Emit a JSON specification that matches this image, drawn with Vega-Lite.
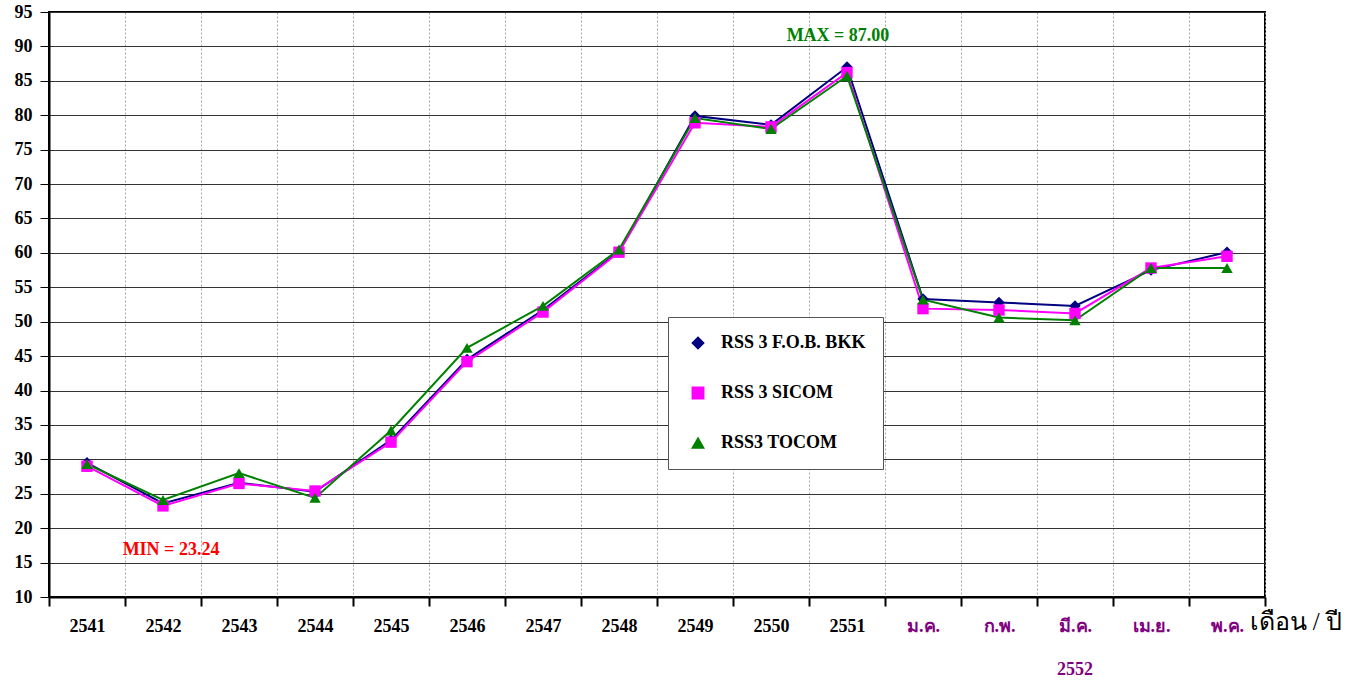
{
  "$schema": "https://vega.github.io/schema/vega-lite/v6.json",
  "width": 1216,
  "height": 585,
  "autosize": {"type": "none"},
  "padding": {"left": 49, "top": 12, "right": 98, "bottom": 87},
  "background": "white",
  "config": {
    "view": {"stroke": "black", "strokeWidth": 2},
    "font": "Liberation Serif"
  },
  "datasets": {
    "prices": [
      {"period": "2541", "series": "RSS 3 F.O.B. BKK", "value": 29.5},
      {"period": "2542", "series": "RSS 3 F.O.B. BKK", "value": 23.6},
      {"period": "2543", "series": "RSS 3 F.O.B. BKK", "value": 26.6},
      {"period": "2544", "series": "RSS 3 F.O.B. BKK", "value": 25.3},
      {"period": "2545", "series": "RSS 3 F.O.B. BKK", "value": 32.8},
      {"period": "2546", "series": "RSS 3 F.O.B. BKK", "value": 44.5},
      {"period": "2547", "series": "RSS 3 F.O.B. BKK", "value": 51.7},
      {"period": "2548", "series": "RSS 3 F.O.B. BKK", "value": 60.2},
      {"period": "2549", "series": "RSS 3 F.O.B. BKK", "value": 79.9},
      {"period": "2550", "series": "RSS 3 F.O.B. BKK", "value": 78.6},
      {"period": "2551", "series": "RSS 3 F.O.B. BKK", "value": 87.0},
      {"period": "ม.ค.", "series": "RSS 3 F.O.B. BKK", "value": 53.3},
      {"period": "ก.พ.", "series": "RSS 3 F.O.B. BKK", "value": 52.8},
      {"period": "มี.ค.", "series": "RSS 3 F.O.B. BKK", "value": 52.3},
      {"period": "เม.ย.", "series": "RSS 3 F.O.B. BKK", "value": 57.5},
      {"period": "พ.ค.", "series": "RSS 3 F.O.B. BKK", "value": 60.1},
      {"period": "2541", "series": "RSS 3 SICOM", "value": 29.0},
      {"period": "2542", "series": "RSS 3 SICOM", "value": 23.24},
      {"period": "2543", "series": "RSS 3 SICOM", "value": 26.5},
      {"period": "2544", "series": "RSS 3 SICOM", "value": 25.4},
      {"period": "2545", "series": "RSS 3 SICOM", "value": 32.5},
      {"period": "2546", "series": "RSS 3 SICOM", "value": 44.2},
      {"period": "2547", "series": "RSS 3 SICOM", "value": 51.4},
      {"period": "2548", "series": "RSS 3 SICOM", "value": 60.1},
      {"period": "2549", "series": "RSS 3 SICOM", "value": 78.9},
      {"period": "2550", "series": "RSS 3 SICOM", "value": 78.3},
      {"period": "2551", "series": "RSS 3 SICOM", "value": 86.2},
      {"period": "ม.ค.", "series": "RSS 3 SICOM", "value": 51.9},
      {"period": "ก.พ.", "series": "RSS 3 SICOM", "value": 51.7},
      {"period": "มี.ค.", "series": "RSS 3 SICOM", "value": 51.2},
      {"period": "เม.ย.", "series": "RSS 3 SICOM", "value": 57.8},
      {"period": "พ.ค.", "series": "RSS 3 SICOM", "value": 59.5},
      {"period": "2541", "series": "RSS3 TOCOM", "value": 29.3},
      {"period": "2542", "series": "RSS3 TOCOM", "value": 24.1},
      {"period": "2543", "series": "RSS3 TOCOM", "value": 28.0},
      {"period": "2544", "series": "RSS3 TOCOM", "value": 24.4},
      {"period": "2545", "series": "RSS3 TOCOM", "value": 34.2},
      {"period": "2546", "series": "RSS3 TOCOM", "value": 46.2},
      {"period": "2547", "series": "RSS3 TOCOM", "value": 52.3},
      {"period": "2548", "series": "RSS3 TOCOM", "value": 60.5},
      {"period": "2549", "series": "RSS3 TOCOM", "value": 79.6},
      {"period": "2550", "series": "RSS3 TOCOM", "value": 78.0},
      {"period": "2551", "series": "RSS3 TOCOM", "value": 85.7},
      {"period": "ม.ค.", "series": "RSS3 TOCOM", "value": 53.2},
      {"period": "ก.พ.", "series": "RSS3 TOCOM", "value": 50.6},
      {"period": "มี.ค.", "series": "RSS3 TOCOM", "value": 50.2},
      {"period": "เม.ย.", "series": "RSS3 TOCOM", "value": 57.8},
      {"period": "พ.ค.", "series": "RSS3 TOCOM", "value": 57.8}
    ]
  },
  "encoding": {
    "x": {
      "field": "period",
      "type": "nominal",
      "sort": ["2541","2542","2543","2544","2545","2546","2547","2548","2549","2550","2551","ม.ค.","ก.พ.","มี.ค.","เม.ย.","พ.ค."],
      "scale": {"type": "band", "paddingInner": 0, "paddingOuter": 0},
      "axis": {
        "title": "เดือน / ปี",
        "titleFont": "Liberation Serif",
        "titleFontSize": 25,
        "titleFontWeight": "normal",
        "titleColor": "black",
        "titleAlign": "left",
        "titleBaseline": "middle",
        "titleAnchor": "start",
        "titleX": 1200,
        "titleY": 24,
        "labelAngle": 0,
        "labelOverlap": false,
        "labelFont": "Liberation Serif",
        "labelFontSize": 18,
        "labelFontWeight": "bold",
        "labelColor": {"condition": {"test": "test(/^25/, datum.value)", "value": "black"}, "value": "#800080"},
        "labelPadding": 11,
        "labelBaseline": "top",
        "tickBand": "extent",
        "tickSize": 9,
        "tickColor": "black",
        "tickWidth": 2,
        "domainColor": "black",
        "domainWidth": 2,
        "grid": true,
        "gridColor": "#a8a8a8",
        "gridDash": [2, 2],
        "gridWidth": 1
      }
    },
    "y": {
      "field": "value",
      "type": "quantitative",
      "scale": {"domain": [10, 95], "nice": false, "zero": false},
      "axis": {
        "title": null,
        "values": [10,15,20,25,30,35,40,45,50,55,60,65,70,75,80,85,90,95],
        "labelOverlap": false,
        "labelFont": "Liberation Serif",
        "labelFontSize": 18,
        "labelFontWeight": "bold",
        "labelColor": "black",
        "labelPadding": 8,
        "tickSize": 9,
        "tickColor": "black",
        "domainColor": "black",
        "domainWidth": 2,
        "grid": true,
        "gridColor": "#333333",
        "gridWidth": 1.2
      }
    }
  },
  "layer": [
    {
      "data": {"name": "prices"},
      "mark": {"type": "line", "strokeWidth": 2},
      "encoding": {
        "color": {
          "field": "series",
          "type": "nominal",
          "scale": {"domain": ["RSS 3 F.O.B. BKK", "RSS 3 SICOM", "RSS3 TOCOM"], "range": ["#000080", "#FF00FF", "#008000"]},
          "legend": {
            "title": null,
            "orient": "none",
            "legendX": 619,
            "legendY": 305,
            "fillColor": "white",
            "strokeColor": "#555555",
            "padding": 17,
            "rowPadding": 32,
            "labelFont": "Liberation Serif",
            "labelFontSize": 18,
            "labelFontWeight": "bold",
            "labelColor": "black",
            "labelOffset": 14,
            "symbolSize": 130,
            "symbolOffset": 4
          }
        },
        "detail": {"field": "series"}
      }
    },
    {
      "data": {"name": "prices"},
      "mark": {"type": "point", "filled": true, "opacity": 1, "size": 130},
      "encoding": {
        "color": {"field": "series", "type": "nominal"},
        "shape": {
          "field": "series",
          "type": "nominal",
          "scale": {"domain": ["RSS 3 F.O.B. BKK", "RSS 3 SICOM", "RSS3 TOCOM"], "range": ["diamond", "square", "triangle-up"]}
        }
      }
    },
    {
      "data": {"values": [{"period": "2551", "value": 91.5, "label": "MAX = 87.00"}]},
      "mark": {"type": "text", "font": "Liberation Serif", "fontSize": 18, "fontWeight": "bold", "color": "#008000", "dx": -9},
      "encoding": {
        "text": {"field": "label"}
      }
    },
    {
      "data": {"values": [{"period": "2542", "value": 16.8, "label": "MIN = 23.24"}]},
      "mark": {"type": "text", "font": "Liberation Serif", "fontSize": 18, "fontWeight": "bold", "color": "#FF0000", "dx": 8},
      "encoding": {
        "text": {"field": "label"}
      }
    },
    {
      "data": {"values": [{"period": "มี.ค.", "value": -0.6, "label": "2552"}]},
      "mark": {"type": "text", "font": "Liberation Serif", "fontSize": 18, "fontWeight": "bold", "color": "#800080", "clip": false},
      "encoding": {
        "text": {"field": "label"}
      }
    }
  ]
}
